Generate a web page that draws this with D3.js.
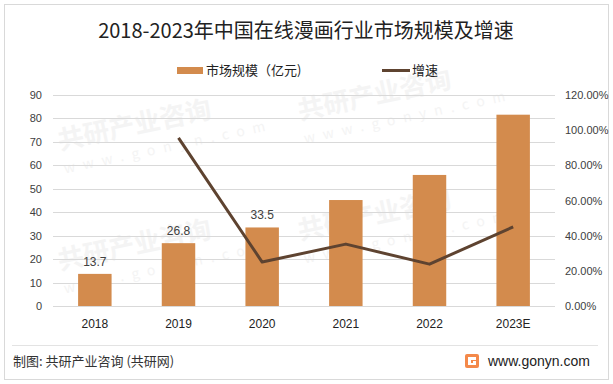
<!DOCTYPE html>
<html>
<head>
<meta charset="utf-8">
<script src="https://cdn.jsdelivr.net/npm/d3@7"></script>
<style>
body { margin: 0; background: #fff; }
svg { display: block; font-family: "Noto Sans CJK SC", "Liberation Sans", sans-serif; }
</style>
</head>
<body>
<svg></svg>
<script>
"use strict";
var years = ["2018", "2019", "2020", "2021", "2022", "2023E"];
var marketSize = [13.7, 26.8, 33.5, 45.2, 55.9, 81.6];
var growthRate = [null, 95.6, 25.0, 35.2, 23.8, 45.0];
var labelledYears = ["2018", "2019", "2020"];
var leftTicks = [0, 10, 20, 30, 40, 50, 60, 70, 80, 90];
var rightTicks = [0, 20, 40, 60, 80, 100, 120];

var svgWidth = 613, svgHeight = 384;
var plotLeft = 53, plotRight = 555, plotTop = 95, plotBottom = 306;
var barColor = "#d38b4d", lineColor = "#5e4330", textColor = "#404040";

var svg = d3.select("svg").attr("width", svgWidth).attr("height", svgHeight);

// frame
svg.append("rect").attr("x", 4.5).attr("y", 4.5).attr("width", 604).attr("height", 375)
  .attr("fill", "#fff").attr("stroke", "#d9d9d9");

// faint watermarks, kept inside the frame
var wm = svg.append("g").attr("fill", "#f4f4f4");
[[60, 150], [300, 120], [60, 270], [300, 240]].forEach(function(p)
{
  var g = wm.append("g").attr("transform", "translate(" + p[0] + "," + p[1] + ") rotate(-12)");
  g.append("text").attr("font-size", 26).attr("font-weight", "bold").text("共研产业咨询");
  g.append("text").attr("y", 24).attr("font-size", 14).attr("letter-spacing", 8).text("www.gonyn.com");
});

svg.append("text").attr("x", 306).attr("y", 38).attr("text-anchor", "middle")
  .attr("font-size", 20).attr("fill", "#222").text("2018-2023年中国在线漫画行业市场规模及增速");

var x = d3.scaleBand().domain(years).range([plotLeft, plotRight]).paddingInner(0.6).paddingOuter(0.3);
var yLeft = d3.scaleLinear().domain([0, 90]).range([plotBottom, plotTop]);
var yRight = d3.scaleLinear().domain([0, 120]).range([plotBottom, plotTop]);

// gridlines
svg.append("g").selectAll("line").data(leftTicks).enter().append("line")
  .attr("x1", plotLeft).attr("x2", plotRight)
  .attr("y1", function(d) { return Math.round(yLeft(d)) + 0.5; })
  .attr("y2", function(d) { return Math.round(yLeft(d)) + 0.5; })
  .attr("stroke", "#d9d9d9");

var leftAxis = svg.append("g").attr("transform", "translate(" + plotLeft + ",0)")
  .call(d3.axisLeft(yLeft).tickValues(leftTicks).tickSize(0).tickPadding(11));
leftAxis.select(".domain").remove();
leftAxis.selectAll("text").attr("font-size", 11).attr("fill", textColor).attr("font-family", "Liberation Sans, sans-serif");

var rightAxis = svg.append("g").attr("transform", "translate(" + (plotRight + 10) + ",0)")
  .call(d3.axisRight(yRight).tickValues(rightTicks).tickSize(0).tickPadding(0)
    .tickFormat(function(d) { return d.toFixed(2) + "%"; }));
rightAxis.select(".domain").remove();
rightAxis.selectAll("text").attr("font-size", 11).attr("fill", textColor).attr("font-family", "Liberation Sans, sans-serif");

var bottomAxis = svg.append("g").attr("transform", "translate(0," + plotBottom + ")")
  .call(d3.axisBottom(x).tickSize(0).tickPadding(13));
bottomAxis.select(".domain").remove();
bottomAxis.selectAll("text").attr("font-size", 12).attr("fill", "#222").attr("font-family", "Liberation Sans, sans-serif");

svg.append("g").selectAll("rect").data(marketSize).enter().append("rect")
  .attr("x", function(d, i) { return x(years[i]); })
  .attr("y", function(d) { return yLeft(d); })
  .attr("width", x.bandwidth())
  .attr("height", function(d) { return plotBottom - yLeft(d); })
  .attr("fill", barColor);

svg.append("g").selectAll("text").data(marketSize.filter(function(d, i) { return labelledYears.indexOf(years[i]) >= 0; }))
  .enter().append("text")
  .attr("x", function(d, i) { return x(years[i]) + x.bandwidth() / 2; })
  .attr("y", function(d) { return yLeft(d) - 8; })
  .attr("text-anchor", "middle").attr("font-size", 12).attr("fill", textColor)
  .attr("font-family", "Liberation Sans, sans-serif")
  .text(function(d) { return d; });

var line = d3.line()
  .defined(function(d) { return d !== null; })
  .x(function(d, i) { return x(years[i]) + x.bandwidth() / 2; })
  .y(function(d) { return yRight(d); });
svg.append("path").datum(growthRate).attr("d", line)
  .attr("fill", "none").attr("stroke", lineColor).attr("stroke-width", 3).attr("stroke-linejoin", "round");

// legend
svg.append("rect").attr("x", 177).attr("y", 67).attr("width", 26).attr("height", 7).attr("fill", barColor);
svg.append("text").attr("x", 206).attr("y", 75).attr("font-size", 13).attr("fill", "#222").text("市场规模（亿元)");
svg.append("line").attr("x1", 382).attr("x2", 410).attr("y1", 70.5).attr("y2", 70.5)
  .attr("stroke", lineColor).attr("stroke-width", 3);
svg.append("text").attr("x", 412).attr("y", 75).attr("font-size", 13).attr("fill", "#222").text("增速");

// footer
svg.append("line").attr("x1", 12).attr("x2", 598).attr("y1", 345.5).attr("y2", 345.5).attr("stroke", "#e3e3e3");
svg.append("text").attr("x", 13).attr("y", 366).attr("font-size", 13).attr("fill", "#333").text("制图: 共研产业咨询 (共研网)");
var logo = svg.append("g").attr("transform", "translate(465,354)");
logo.append("rect").attr("width", 14).attr("height", 14).attr("rx", 2).attr("fill", "#f4894a");
logo.append("path").attr("d", "M3,3H11V6H6V8H8V7H11V11H3Z").attr("fill", "#fff");
logo.append("path").attr("d", "M6,8H8V9H6Z").attr("fill", "#f4894a");
svg.append("text").attr("x", 488).attr("y", 366).attr("font-size", 14).attr("fill", "#222")
  .attr("font-family", "Liberation Sans, sans-serif").text("www.gonyn.com");
</script>
</body>
</html>
